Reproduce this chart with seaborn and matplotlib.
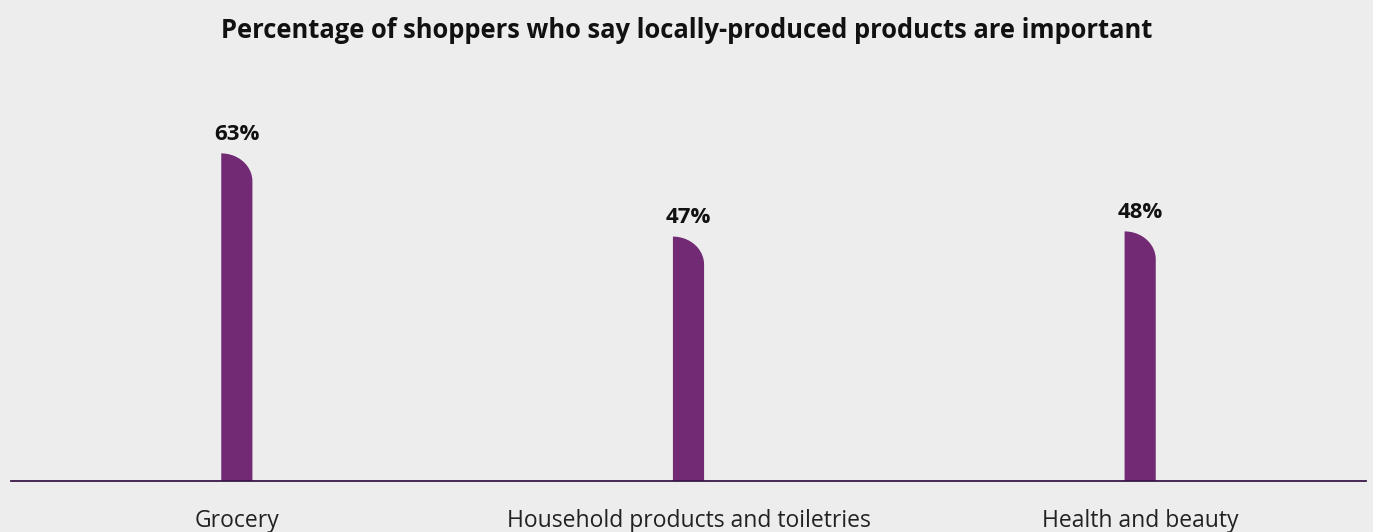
import matplotlib
matplotlib.use("Agg")
import matplotlib.pyplot as plt
import seaborn as sns
import pandas as pd
import numpy as np
from matplotlib.path import Path
from matplotlib.patches import PathPatch

categories = ["Grocery", "Household products and toiletries", "Health and beauty"]
values = [63, 47, 48]
value_labels = ["63%", "47%", "48%"]

BG = "#EDEDED"
BAR = "#722A74"
LINE = "#3A1846"

sns.set_theme(style="white")
plt.rcParams["font.family"] = ["Open Sans", "DejaVu Sans"]

df = pd.DataFrame({"category": categories, "value": values})

fig = plt.figure(figsize=(13.73, 5.32), dpi=100, facecolor=BG)
ax = fig.add_axes([11 / 1373, 51 / 532, 1355 / 1373, 364 / 532])
ax.set_facecolor(BG)

sns.barplot(data=df, x="category", y="value", color=BAR, width=0.069,
            saturation=1, ax=ax)
ax.set_ylim(0, 70)

# px per data unit vertically
px_per_unit = 364 / 70.0
ry = 28 / px_per_unit

for p, lab in zip(ax.patches, value_labels):
    x0 = p.get_x()
    w = p.get_width()
    h = p.get_height()
    p.set_visible(False)
    t = np.linspace(0, np.pi / 2, 40)
    xs = x0 + w * np.sin(t)
    ys = (h - ry) + ry * np.cos(t)
    verts = [(x0, 0), (x0, h)] + list(zip(xs, ys)) + [(x0 + w, 0), (x0, 0)]
    codes = [Path.MOVETO] + [Path.LINETO] * (len(verts) - 2) + [Path.CLOSEPOLY]
    ax.add_patch(PathPatch(Path(verts, codes), facecolor=BAR, edgecolor="none"))
    ax.annotate(lab, (x0 + w / 2, h), xytext=(0, 6), textcoords="offset points",
                ha="center", va="bottom", fontsize=16, fontweight="bold",
                color="#111111")

for s in ["top", "right", "left"]:
    ax.spines[s].set_visible(False)
ax.spines["bottom"].set_color(LINE)
ax.spines["bottom"].set_linewidth(1.3)
ax.set_yticks([])
ax.set_xlabel("")
ax.set_ylabel("")
ax.tick_params(axis="x", length=0, pad=20, labelsize=16.5, labelcolor="#222222")

fig.text(0.5, 1 - 31 / 532, "Percentage of shoppers who say locally-produced products are important",
         ha="center", va="center", fontsize=18.4, fontweight="bold", color="#111111")

fig.savefig("out.png", dpi=100, facecolor=BG)
